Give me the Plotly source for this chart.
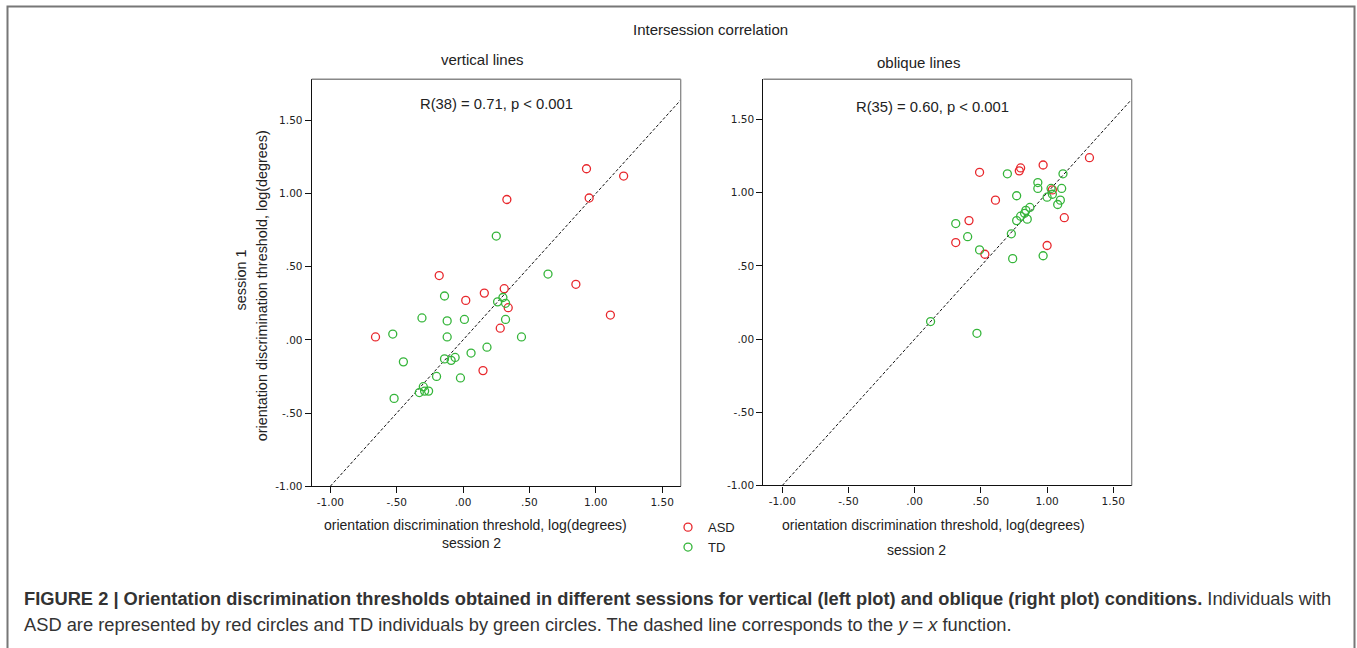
import plotly.graph_objects as go

W, H = 1357, 648

# ---------------- data ----------------
# Left panel: vertical lines (x = session 2, y = session 1)
vert_asd_s2 = [0.93, 1.21, 0.95, 0.33, -0.18, 0.31, 0.16, 0.02, 0.85, 0.34, 1.11, -0.66, 0.28, 0.15]
vert_asd_s1 = [1.17, 1.12, 0.97, 0.96, 0.44, 0.35, 0.32, 0.27, 0.38, 0.22, 0.17, 0.02, 0.08, -0.21]
vert_td_s2 = [0.25, 0.64, -0.14, 0.30, 0.26, 0.32, -0.31, -0.12, 0.01, 0.32, -0.53, -0.12, 0.44,
              -0.45, 0.18, 0.06, -0.14, -0.09, -0.06, -0.20, -0.02, -0.52, -0.30, -0.33, -0.29, -0.26]
vert_td_s1 = [0.71, 0.45, 0.30, 0.29, 0.26, 0.25, 0.15, 0.13, 0.14, 0.14, 0.04, 0.02, 0.02,
              -0.15, -0.05, -0.09, -0.13, -0.14, -0.12, -0.25, -0.26, -0.40, -0.32, -0.36, -0.35, -0.35]

# Right panel: oblique lines
obl_asd_s2 = [1.32, 0.97, 0.80, 0.79, 0.49, 1.04, 0.61, 1.13, 0.41, 0.31, 1.00, 0.53]
obl_asd_s1 = [1.24, 1.19, 1.17, 1.15, 1.14, 1.02, 0.95, 0.83, 0.81, 0.66, 0.64, 0.58]
obl_td_s2 = [1.12, 0.70, 0.93, 0.93, 1.03, 1.11, 0.77, 1.00, 1.04, 1.10, 1.08, 0.87, 0.84,
             0.83, 0.80, 0.77, 0.85, 0.31, 0.40, 0.73, 0.49, 0.74, 0.97, 0.12, 0.47]
obl_td_s1 = [1.13, 1.13, 1.07, 1.03, 1.03, 1.03, 0.98, 0.97, 0.99, 0.95, 0.92, 0.90, 0.88,
             0.86, 0.84, 0.81, 0.82, 0.79, 0.70, 0.72, 0.61, 0.55, 0.57, 0.12, 0.04]

identity_line = [-1.0, 1.64]

tick_vals = [-1.0, -0.5, 0.0, 0.5, 1.0, 1.5]
tick_text = ["-1.00", "-.50", ".00", ".50", "1.00", "1.50"]

panel_titles = ["vertical lines", "oblique lines"]
stat_texts = ["R(38) = 0.71, p < 0.001", "R(35) = 0.60, p < 0.001"]
group_names = ["ASD", "TD"]

RED = "#e8282d"
GREEN = "#35b53a"
FONT = "Liberation Sans, Arial, Helvetica, sans-serif"
TICKFONT = "DejaVu Sans, Verdana, sans-serif"


def px(x):
    return x / W


def py(y):
    return 1 - y / H


fig = go.Figure()

panels = [
    ("x", "y", vert_asd_s2, vert_asd_s1, vert_td_s2, vert_td_s1, True),
    ("x2", "y2", obl_asd_s2, obl_asd_s1, obl_td_s2, obl_td_s1, False),
]
for xa, ya, ax, ay, tx, ty, show in panels:
    fig.add_trace(go.Scatter(
        x=identity_line, y=identity_line, mode="lines", xaxis=xa, yaxis=ya,
        line=dict(color="#111", width=1, dash="3px,2px"), showlegend=False, hoverinfo="skip"))
    fig.add_trace(go.Scatter(
        x=ax, y=ay, mode="markers", xaxis=xa, yaxis=ya, name=group_names[0],
        legendgroup="asd", showlegend=show,
        marker=dict(symbol="circle-open", size=8, color=RED, line=dict(width=1.3, color=RED))))
    fig.add_trace(go.Scatter(
        x=tx, y=ty, mode="markers", xaxis=xa, yaxis=ya, name=group_names[1],
        legendgroup="td", showlegend=show,
        marker=dict(symbol="circle-open", size=8, color=GREEN, line=dict(width=1.3, color=GREEN))))

axis_common = dict(
    showgrid=False, zeroline=False, showline=True, linecolor="#111", linewidth=1.2,
    ticks="outside", ticklen=6, tickcolor="#111", tickwidth=1.2,
    tickvals=tick_vals, ticktext=tick_text,
    tickfont=dict(family=TICKFONT, size=10.5, color="#222"), fixedrange=True,
)

fig.update_layout(
    width=W, height=H,
    margin=dict(l=0, r=0, t=0, b=0),
    paper_bgcolor="white", plot_bgcolor="white",
    font=dict(family=FONT, color="#222"),
    xaxis=dict(domain=[px(311.7), px(680.7)], range=[-1.141, 1.64], anchor="y", **axis_common),
    yaxis=dict(domain=[py(490.7), py(80)], range=[-1.0, 1.782], anchor="x", **axis_common),
    xaxis2=dict(domain=[px(763.3), px(1131.7)], range=[-1.1435, 1.639], anchor="y2", **axis_common),
    yaxis2=dict(domain=[py(490), py(80)], range=[-1.0, 1.776], anchor="x2", **axis_common),
    legend=dict(x=px(668), y=py(517), xanchor="left", yanchor="top",
                font=dict(family=FONT, size=13, color="#222"),
                bgcolor="rgba(0,0,0,0)", tracegroupgap=0, itemwidth=30),
    showlegend=True,
)

shapes = []
# gray top/right frame of each panel
for xr, yr in [("x domain", "y domain"), ("x2 domain", "y2 domain")]:
    shapes.append(dict(type="line", xref=xr, yref=yr, x0=0, x1=1, y0=1, y1=1,
                       line=dict(color="#888", width=1.3)))
    shapes.append(dict(type="line", xref=xr, yref=yr, x0=1, x1=1, y0=0, y1=1,
                       line=dict(color="#888", width=1.3)))
# outer figure frame
shapes.append(dict(type="rect", xref="paper", yref="paper", x0=px(7.5), x1=px(1354.5), y0=-0.05, y1=py(6.5),
                   line=dict(color="#777", width=2), fillcolor="rgba(0,0,0,0)"))
fig.update_layout(shapes=shapes)

ann = []


def text(x, y, s, size=14, angle=0, xanchor="center", color="#222"):
    ann.append(dict(x=px(x), y=py(y), xref="paper", yref="paper", text=s, showarrow=False,
                    xanchor=xanchor, yanchor="middle", textangle=angle,
                    font=dict(family=FONT, size=size, color=color)))


text(710, 30, "Intersession correlation", 15)
text(482, 60, panel_titles[0], 15)
text(918, 63, panel_titles[1], 15)
text(496, 105, stat_texts[0], 14.8)
text(932, 108, stat_texts[1], 14.8)
text(475, 530, "orientation discrimination threshold, log(degrees)", 14)
text(471, 548, "session 2", 14)
text(933, 530, "orientation discrimination threshold, log(degrees)", 14)
text(916, 555, "session 2", 14)
text(262, 289, "orientation discrimination threshold, log(degrees)", 14.4, angle=-90)
text(241, 283, "session 1", 14.4, angle=-90)

text(22, 604, "<b>FIGURE 2 | Orientation discrimination thresholds obtained in different sessions for "
              "vertical (left plot) and oblique (right plot) conditions.</b> Individuals with",
     18.3, xanchor="left", color="#333")
text(22, 630, "ASD are represented by red circles and TD individuals by green circles. "
              "The dashed line corresponds to the <i>y</i> = <i>x</i> function.",
     18.3, xanchor="left", color="#333")

fig.update_layout(annotations=ann)

fig.write_html("out.html", config={"displayModeBar": False},
               post_script="document.body.style.margin='0';")
